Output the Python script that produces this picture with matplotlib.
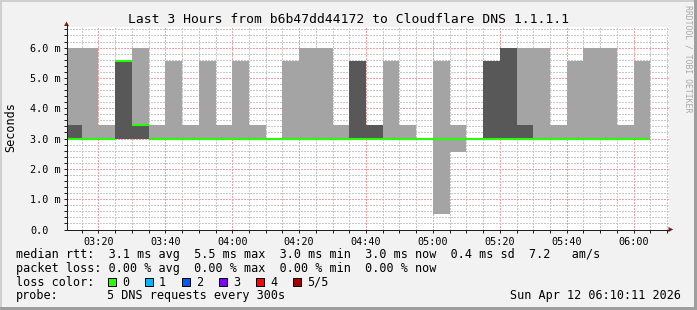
import matplotlib
matplotlib.use("Agg")
import matplotlib.pyplot as plt
import matplotlib.dates as mdates
import matplotlib.patches as mpatches
import pandas as pd
import numpy as np

# ---------------- data ----------------
step_start = pd.date_range("2026-04-12 03:10", periods=35, freq="5min")
view_start = pd.Timestamp("2026-04-12 03:10:26")
view_end = pd.Timestamp("2026-04-12 06:10:26")

# sorted ping RTTs per 5-minute step (ms)
ping1 = [3.0] * 22 + [0.5, 2.55] + [3.0] * 11
ping2 = [3.0] * 35
ping3 = [3.0, 3.0, 3.0, 5.55, 3.45] + [3.0] * 30          # median
ping4 = [3.45, 3.0, 3.0, 5.55, 3.45, 3.0, 3.0, 3.0, 3.0, 3.0,
         3.0, 3.0, 3.0, 3.0, 3.0, 3.0, 3.0, 5.55, 3.45, 3.0,
         3.0, 3.0, 3.0, 3.0, 3.0, 5.55, 6.0, 3.45, 3.0, 3.0,
         3.0, 3.0, 3.0, 3.0, 3.0]
ping5 = [6.0, 6.0, 3.45, 5.55, 6.0, 3.45, 5.55, 3.45, 5.55, 3.45,
         5.55, 3.45, 3.0, 5.55, 6.0, 6.0, 3.45, 5.55, 3.45, 5.55,
         3.45, 3.0, 5.55, 3.45, 3.0, 5.55, 6.0, 6.0, 6.0, 3.45,
         5.55, 6.0, 6.0, 3.45, 5.55]

ytick_vals = [0, 1, 2, 3, 4, 5, 6]
ytick_labels = ["0.0", "1.0 m", "2.0 m", "3.0 m", "4.0 m", "5.0 m", "6.0 m"]

title = "Last 3 Hours from b6b47dd44172 to Cloudflare DNS 1.1.1.1"
legend_lines = [
    "median rtt:  3.1 ms avg  5.5 ms max  3.0 ms min  3.0 ms now  0.4 ms sd  7.2   am/s",
    "packet loss: 0.00 % avg  0.00 % max  0.00 % min  0.00 % now",
]
loss_labels = ["0", "1", "2", "3", "4", "5/5"]
loss_colors = ["#26ff00", "#00b8ff", "#0059ff", "#7e00ff", "#ff0000", "#a00000"]
probe_text = "5 DNS requests every 300s"
date_text = "Sun Apr 12 06:10:11 2026"

# ---------------- style ----------------
W, H = 697, 310
BACK = "#f2f2f2"
LIGHT = "#a4a4a4"
DARK = "#585858"
MONO = "DejaVu Sans Mono"

def fx(x):
    return x / W

def fy(y):
    return 1 - y / H

fig = plt.figure(figsize=(W / 100, H / 100), dpi=100, facecolor=BACK)
ax = fig.add_axes([fx(66.5), fy(229.5), (668.5 - 66.5) / W, (229.5 - 27) / H])
ax.set_facecolor("white")

width = pd.Timedelta(minutes=5) / pd.Timedelta(days=1)
x = mdates.date2num(step_start.to_pydatetime())
lo = np.array(ping1); q1 = np.array(ping2); med = np.array(ping3)
q3 = np.array(ping4); hi = np.array(ping5)

ax.bar(x, hi - lo, bottom=lo, width=width, align="edge", color=LIGHT, linewidth=0, zorder=1)
ax.bar(x, q3 - q1, bottom=q1, width=width, align="edge", color=DARK, linewidth=0, zorder=1.1)
ax.hlines(med, x, x + width, colors=loss_colors[0], linewidth=1.5, zorder=3)

ax.set_xlim(mdates.date2num(view_start.to_pydatetime()), mdates.date2num(view_end.to_pydatetime()))
ax.set_ylim(0, 6.68)

ax.xaxis.set_major_locator(mdates.MinuteLocator(byminute=[0, 20, 40]))
ax.xaxis.set_minor_locator(mdates.MinuteLocator(byminute=range(0, 60, 5)))
ax.xaxis.set_major_formatter(mdates.DateFormatter("%H:%M"))
ax.set_yticks(ytick_vals)
ax.set_yticks(np.arange(0, 6.7, 0.2), minor=True)
ax.set_yticklabels(ytick_labels)

ax.set_axisbelow(True)
ax.grid(which="minor", color="#c8c8c8", linestyle=(0, (1, 1)), linewidth=1.0,
        antialiased=False, zorder=0.5)
ax.grid(which="major", color="#f0a0a0", linestyle=(0, (1, 1)), linewidth=1.0,
        antialiased=False, zorder=0.6)

ax.tick_params(axis="both", which="both", length=2, width=0.72, color="#1f1f1f")
ax.tick_params(axis="y", which="major", pad=24, labelsize=7.3)
ax.tick_params(axis="x", which="major", pad=3.5, labelsize=7.3)
for lab in ax.get_yticklabels():
    lab.set_horizontalalignment("left")
    lab.set_fontfamily(MONO)
for lab in ax.get_xticklabels():
    lab.set_fontfamily(MONO)

for s in ["top", "right"]:
    ax.spines[s].set_visible(False)
for s in ["left", "bottom"]:
    ax.spines[s].set_color("#1f1f1f")
    ax.spines[s].set_linewidth(0.72)
    ax.spines[s].set_zorder(4)

# arrows
ARROW = "#801f1f"
fig.add_artist(mpatches.Polygon([(fx(64.0), fy(26)), (fx(69.0), fy(26)), (fx(66.5), fy(21.5))],
                                closed=True, transform=fig.transFigure, color=ARROW, lw=0))
fig.add_artist(plt.Line2D([fx(66.5), fx(66.5)], [fy(229.5), fy(25)], transform=fig.transFigure,
                          color="#1f1f1f", lw=0.72))
fig.add_artist(mpatches.Polygon([(fx(668.5), fy(227)), (fx(668.5), fy(232)), (fx(673.3), fy(229.5))],
                                closed=True, transform=fig.transFigure, color=ARROW, lw=0))
fig.add_artist(plt.Line2D([fx(66.5), fx(669)], [fy(229.5), fy(229.5)], transform=fig.transFigure,
                          color="#1f1f1f", lw=0.72))

# texts
fig.text(0.5, fy(23.3), title, ha="center", va="baseline", fontsize=9.4, family=MONO, color="black")
fig.text(fx(10.5), fy(127.5), "Seconds", rotation=90, ha="center", va="center", fontsize=8.45, family=MONO)
fig.text(fx(688), fy(5), "RRDTOOL / TOBI OETIKER", rotation=270, ha="center", va="top",
         fontsize=5.9, family=MONO, color="#a8a8a8")

LEG_FS = 8.47
baselines = [258.3, 272.3, 285.7, 299.3]
for line, yb in zip(legend_lines, baselines[:2]):
    fig.text(fx(16), fy(yb), line, ha="left", va="baseline", fontsize=LEG_FS, family=MONO)
fig.text(fx(16), fy(baselines[2]), "loss color:", ha="left", va="baseline", fontsize=LEG_FS, family=MONO)
for i, (lab, col) in enumerate(zip(loss_labels, loss_colors)):
    bx = 108 + 37 * i
    fig.add_artist(mpatches.Rectangle((fx(bx), fy(285.5)), 8 / W, 7.5 / H, transform=fig.transFigure,
                                      facecolor=col, edgecolor="black", lw=0.72))
    fig.text(fx(bx + 14), fy(baselines[2]), lab, ha="left", va="baseline", fontsize=LEG_FS, family=MONO)
fig.text(fx(16), fy(baselines[3]), "probe:", ha="left", va="baseline", fontsize=LEG_FS, family=MONO)
fig.text(fx(107), fy(baselines[3]), probe_text, ha="left", va="baseline", fontsize=LEG_FS, family=MONO)
fig.text(fx(681), fy(baselines[3]), date_text, ha="right", va="baseline", fontsize=LEG_FS, family=MONO)

# 3D frame
fig.add_artist(mpatches.Rectangle((0, fy(2)), 1, 2 / H, transform=fig.transFigure, color="#cfcfcf", lw=0))
fig.add_artist(mpatches.Rectangle((0, 0), 2 / W, 1, transform=fig.transFigure, color="#cfcfcf", lw=0))
fig.add_artist(mpatches.Rectangle((0, 0), 1, 3 / H, transform=fig.transFigure, color="#9e9e9e", lw=0))
fig.add_artist(mpatches.Rectangle((fx(694), 0), 3 / W, 1, transform=fig.transFigure, color="#9e9e9e", lw=0))

fig.savefig("out.png", dpi=100, facecolor=BACK)
